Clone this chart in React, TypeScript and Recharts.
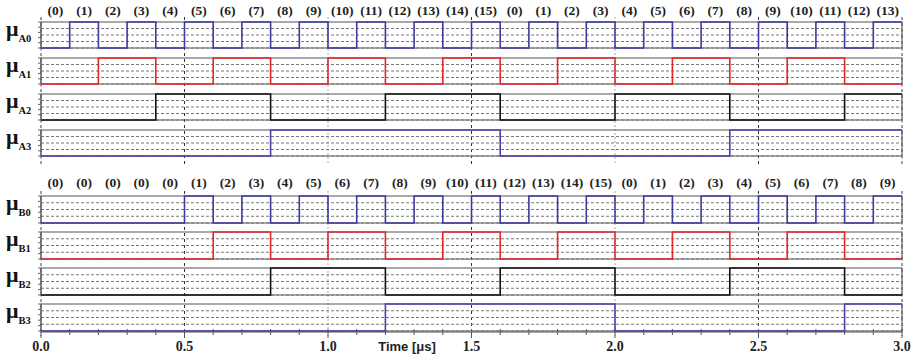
import React from 'react';
import { LineChart, Line, XAxis, YAxis, CartesianGrid, ReferenceLine, ReferenceArea } from 'recharts';

// start time (μs) of each counter slot
const slotTimes = [
  0.0, 0.1, 0.2, 0.3, 0.4, 0.5, 0.6, 0.7, 0.8, 0.9,
  1.0, 1.1, 1.2, 1.3, 1.4, 1.5, 1.6, 1.7, 1.8, 1.9,
  2.0, 2.1, 2.2, 2.3, 2.4, 2.5, 2.6, 2.7, 2.8, 2.9,
];
const endTime = 3.0;

// counter value shown above each slot
const countsA = [0, 1, 2, 3, 4, 5, 6, 7, 8, 9, 10, 11, 12, 13, 14, 15, 0, 1, 2, 3, 4, 5, 6, 7, 8, 9, 10, 11, 12, 13];
const countsB = [0, 0, 0, 0, 0, 1, 2, 3, 4, 5, 6, 7, 8, 9, 10, 11, 12, 13, 14, 15, 0, 1, 2, 3, 4, 5, 6, 7, 8, 9];

// logic levels per slot
const muA0 = [0, 1, 0, 1, 0, 1, 0, 1, 0, 1, 0, 1, 0, 1, 0, 1, 0, 1, 0, 1, 0, 1, 0, 1, 0, 1, 0, 1, 0, 1];
const muA1 = [0, 0, 1, 1, 0, 0, 1, 1, 0, 0, 1, 1, 0, 0, 1, 1, 0, 0, 1, 1, 0, 0, 1, 1, 0, 0, 1, 1, 0, 0];
const muA2 = [0, 0, 0, 0, 1, 1, 1, 1, 0, 0, 0, 0, 1, 1, 1, 1, 0, 0, 0, 0, 1, 1, 1, 1, 0, 0, 0, 0, 1, 1];
const muA3 = [0, 0, 0, 0, 0, 0, 0, 0, 1, 1, 1, 1, 1, 1, 1, 1, 0, 0, 0, 0, 0, 0, 0, 0, 1, 1, 1, 1, 1, 1];

const muB0 = [0, 0, 0, 0, 0, 1, 0, 1, 0, 1, 0, 1, 0, 1, 0, 1, 0, 1, 0, 1, 0, 1, 0, 1, 0, 1, 0, 1, 0, 1];
const muB1 = [0, 0, 0, 0, 0, 0, 1, 1, 0, 0, 1, 1, 0, 0, 1, 1, 0, 0, 1, 1, 0, 0, 1, 1, 0, 0, 1, 1, 0, 0];
const muB2 = [0, 0, 0, 0, 0, 0, 0, 0, 1, 1, 1, 1, 0, 0, 0, 0, 1, 1, 1, 1, 0, 0, 0, 0, 1, 1, 1, 1, 0, 0];
const muB3 = [0, 0, 0, 0, 0, 0, 0, 0, 0, 0, 0, 0, 1, 1, 1, 1, 1, 1, 1, 1, 0, 0, 0, 0, 0, 0, 0, 0, 1, 1];

const timeTicks = [...slotTimes, endTime];
const majorTicks = [0, 0.5, 1.0, 1.5, 2.0, 2.5, 3.0];
const darkGuides = [0.5, 1.5, 2.5];
const lightGuides = [1.0, 2.0];
const levelTicks = [0, 0.2, 0.4, 0.6, 0.8, 1];
const gridLevels = [0, 0.25, 0.5, 0.75];

const signalsA = [
  { key: 'A0', values: muA0, color: '#3b3b9f' },
  { key: 'A1', values: muA1, color: '#e3262b' },
  { key: 'A2', values: muA2, color: '#111111' },
  { key: 'A3', values: muA3, color: '#4f3fae' },
];
const signalsB = [
  { key: 'B0', values: muB0, color: '#3b3b9f' },
  { key: 'B1', values: muB1, color: '#e3262b' },
  { key: 'B2', values: muB2, color: '#111111' },
  { key: 'B3', values: muB3, color: '#4f3fae' },
];

const allSignals = [...signalsA, ...signalsB];
const rows = timeTicks.map((t, i) => {
  const j = Math.min(i, slotTimes.length - 1);
  const row: Record<string, number> = { t };
  allSignals.forEach((s) => (row[s.key] = s.values[j]));
  return row;
});

const slotCenters = slotTimes.map((t) => t + 0.05);

const SERIF = '"Liberation Serif", "Times New Roman", serif';
const SANS = '"Liberation Sans", Arial, sans-serif';
const W = 917;

const near = (a: number, b: number) => Math.abs(a - b) < 1e-6;

const countTick = (counts: number[]) => (p: any) => {
  const idx = Math.round((p.payload.value - 0.05) * 10);
  return (
    <text x={p.x} y={p.y - 3} textAnchor="middle" fontFamily={SERIF} fontWeight="bold" fontSize={13.5} fill="#222">
      ({counts[idx]})
    </text>
  );
};

const TimeTick = (p: any) => {
  const v = p.payload.value;
  const major = majorTicks.some((m) => near(m, v));
  return (
    <g>
      <line x1={p.x} x2={p.x} y1={p.y - 3} y2={p.y + (major ? 6 : 3)} stroke="#555" />
      {major && (
        <text x={p.x} y={p.y + 19} textAnchor="middle" fontFamily={SERIF} fontWeight="bold" fontSize={14} fill="#222">
          {v.toFixed(1)}
        </text>
      )}
    </g>
  );
};

const emptyTick = () => <g />;

// vertical dashed guides at the half-microsecond marks
const Guides = ({ top, height }: { top: number; height: number }) => (
  <div style={{ position: 'absolute', left: 0, top }}>
    <LineChart width={W} height={height} data={rows} margin={{ top: 0, right: 15, bottom: 0, left: 41 }}>
      <XAxis xAxisId="dark" type="number" dataKey="t" domain={[0, 3]} ticks={darkGuides} interval={0} hide />
      <XAxis xAxisId="light" type="number" dataKey="t" domain={[0, 3]} ticks={lightGuides} interval={0} hide />
      <YAxis hide domain={[0, 1]} />
      <CartesianGrid xAxisId="dark" horizontal={false} stroke="#333" strokeDasharray="3 3" />
      <CartesianGrid xAxisId="light" horizontal={false} stroke="#aaa" strokeDasharray="2 2" />
    </LineChart>
  </div>
);

const Strip = ({ sig, top, h }: { sig: { key: string; color: string }; top: number; h: number }) => (
  <div style={{ position: 'absolute', left: 0, top: top - 10 }}>
    <LineChart width={W} height={h + 16} data={rows} margin={{ top: 10, right: 15, bottom: 6, left: 37 }}>
      <XAxis dataKey="t" type="number" domain={[0, 3]} hide />
      <YAxis
        domain={[0, 1]}
        ticks={levelTicks}
        interval={0}
        width={4}
        tick={emptyTick}
        tickSize={3}
        axisLine={{ stroke: '#666' }}
        tickLine={{ stroke: '#666' }}
        label={{
          content: () => (
            <text x={6} y={10 + 14} fontFamily={SERIF} fill="#111">
              <tspan fontSize={22} fontWeight="bold">μ</tspan>
              <tspan fontSize={10.5} fontWeight="bold" dy={6}>{sig.key}</tspan>
            </text>
          ),
        }}
      />
      {gridLevels.map((g) => (
        <ReferenceLine key={g} y={g} stroke="#777" strokeDasharray="3 2" />
      ))}
      <ReferenceArea x1={0} x2={3} y1={0} y2={1} fill="none" stroke="#555" strokeWidth={1} ifOverflow="visible" />
      <Line type="stepAfter" dataKey={sig.key} stroke={sig.color} strokeWidth={1.6} dot={false} isAnimationActive={false} />
    </LineChart>
  </div>
);

const topsA = [22, 58, 94, 130];
const topsB = [196, 232, 268, 304];

export default function App() {
  return (
    <div style={{ position: 'absolute', left: 0, top: 0, width: W, height: 359, background: '#fff' }}>
      <Guides top={17} height={147} />
      <Guides top={191} height={145} />

      {/* group A counter labels */}
      <div style={{ position: 'absolute', left: 0, top: 0 }}>
        <LineChart width={W} height={163} data={rows} margin={{ top: 0, right: 15, bottom: 0, left: 41 }}>
          <XAxis
            xAxisId="cnt"
            orientation="top"
            type="number"
            dataKey="t"
            domain={[0, 3]}
            ticks={slotCenters}
            interval={0}
            height={18}
            axisLine={false}
            tickLine={false}
            tickSize={0}
            tickMargin={0}
            tick={countTick(countsA)}
          />
          <YAxis hide domain={[0, 1]} />
        </LineChart>
      </div>

      {/* group B counter labels and time axis */}
      <div style={{ position: 'absolute', left: 0, top: 170 }}>
        <LineChart width={W} height={189} data={rows} margin={{ top: 0, right: 15, bottom: 0, left: 41 }}>
          <XAxis
            xAxisId="cnt"
            orientation="top"
            type="number"
            dataKey="t"
            domain={[0, 3]}
            ticks={slotCenters}
            interval={0}
            height={20}
            axisLine={false}
            tickLine={false}
            tickSize={0}
            tickMargin={0}
            tick={countTick(countsB)}
          />
          <XAxis
            xAxisId="time"
            type="number"
            dataKey="t"
            domain={[0, 3]}
            ticks={timeTicks}
            interval={0}
            height={27}
            axisLine={{ stroke: '#555' }}
            tickLine={false}
            tickSize={0}
            tickMargin={0}
            tick={TimeTick}
            label={{
              content: () => (
                <text x={407} y={181} textAnchor="middle" fontFamily={SANS} fontWeight="bold" fontSize={13} fill="#222">
                  Time [μs]
                </text>
              ),
            }}
          />
          <YAxis hide domain={[0, 1]} />
        </LineChart>
      </div>

      {signalsA.map((s, i) => (
        <Strip key={s.key} sig={s} top={topsA[i]} h={26} />
      ))}
      {signalsB.map((s, i) => (
        <Strip key={s.key} sig={s} top={topsB[i]} h={27} />
      ))}
    </div>
  );
}
